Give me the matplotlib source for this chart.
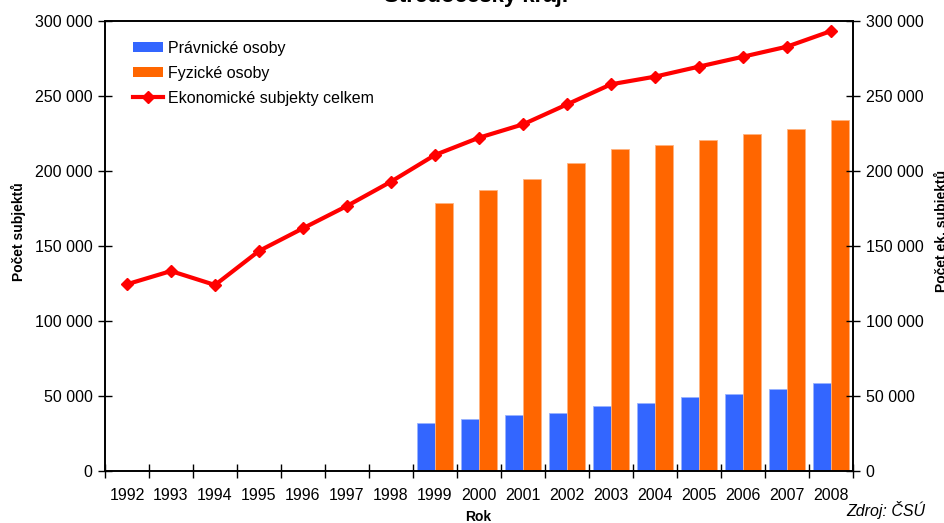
import matplotlib
matplotlib.use("Agg")
import matplotlib.pyplot as plt
from matplotlib.patches import Patch
from matplotlib.lines import Line2D
from matplotlib.ticker import FuncFormatter, FixedLocator
import numpy as np

plt.rcParams['font.family'] = ['Liberation Sans', 'DejaVu Sans']

years = list(range(1992, 2009))
celkem = [124500, 133300, 124000, 146700, 161800, 176700, 192900, 210700, 222200, 231100,
          244400, 257800, 262900, 269600, 276200, 282900, 293300]

bar_years = list(range(1999, 2009))
pravnicke = [31800, 34700, 37100, 38700, 43100, 45600, 49100, 51100, 54400, 58700]
fyzicke = [178400, 187300, 194400, 205100, 214400, 217100, 220900, 224700, 228000, 234000]

BLUE = "#3366FF"
ORANGE = "#FF6600"
RED = "#FF0000"
FS = 11.5


def fmt(v, pos):
    return f"{v:,.0f}".replace(",", " ")


fig = plt.figure(figsize=(9.45, 5.23), dpi=100)
ax = fig.add_axes([105 / 945, 1 - 471 / 523, 748 / 945, 450 / 523])
ax2 = ax.twinx()

x_all = np.arange(len(years))
xb = np.array([years.index(y) for y in bar_years])
w = 0.4
ax.bar(xb - w / 2, pravnicke, width=w, color=BLUE, edgecolor="#99B3FF", linewidth=0.6, zorder=2)
ax.bar(xb + w / 2, fyzicke, width=w, color=ORANGE, edgecolor="#FFB380", linewidth=0.6, zorder=2)
ax2.plot(x_all, celkem, color=RED, lw=3, marker="D", markersize=6.5, zorder=3)

for a in (ax, ax2):
    a.set_ylim(0, 300000)
    a.set_yticks(np.arange(0, 300001, 50000))
    a.yaxis.set_major_formatter(FuncFormatter(fmt))
    a.tick_params(axis="y", direction="inout", length=10, width=1, labelsize=FS, pad=4)
    for s in a.spines.values():
        s.set_linewidth(1.2)
ax.set_xlim(-0.5, len(years) - 0.5)
ax.set_xticks(x_all)
ax.set_xticklabels([str(y) for y in years], fontsize=FS)
ax.tick_params(axis="x", which="major", length=0, pad=12)
ax.xaxis.set_minor_locator(FixedLocator(np.arange(-0.5, len(years), 1.0)))
ax.tick_params(axis="x", which="minor", direction="inout", length=10, width=1)

fig.text(18 / 945, 1 - 232 / 523, "Počet subjektů", rotation=90, ha="center", va="center",
         fontsize=10, fontweight="bold")
fig.text(941 / 945, 1 - 231 / 523, "Počet ek. subjektů", rotation=90, ha="center", va="center",
         fontsize=10, fontweight="bold")
fig.text(478 / 945, 1 - 517 / 523, "Rok", ha="center", va="center", fontsize=10, fontweight="bold")
fig.text(925 / 945, 1 - 510 / 523, "Zdroj: ČSÚ", ha="right", va="center", fontsize=FS, style="italic")
fig.text(476 / 945, 1 - 2 / 523, "Středočeský kraj.", ha="center", va="baseline", fontsize=16,
         fontweight="bold")

handles = [Patch(facecolor=BLUE, edgecolor="none"),
           Patch(facecolor=ORANGE, edgecolor="none"),
           Line2D([], [], color=RED, lw=3, marker="D", markersize=6)]
labels = ["Právnické osoby", "Fyzické osoby", "Ekonomické subjekty celkem"]
fig.legend(handles, labels, loc="upper left", bbox_to_anchor=(133 / 945, 1 - 41 / 523), frameon=False,
           fontsize=FS, handlelength=1.9, handleheight=0.6, handletextpad=0.3, labelspacing=0.62,
           borderpad=0, borderaxespad=0)

fig.savefig("out.png", dpi=100)
